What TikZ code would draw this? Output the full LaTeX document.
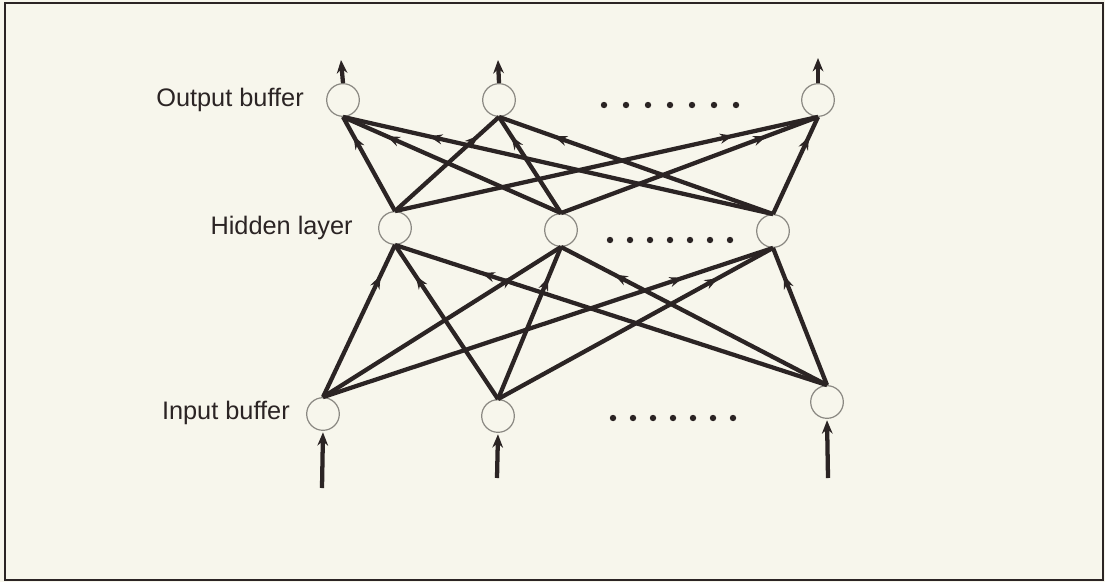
\documentclass[tikz,border=0pt]{standalone}
\usepackage{fontspec}
\setmainfont{Liberation Sans}
\usetikzlibrary{arrows.meta,decorations.markings}
\definecolor{bg}{HTML}{F7F6EC}
\definecolor{ink}{HTML}{2B2424}
\definecolor{ring}{HTML}{8A8882}
\tikzset{
  unit/.style={circle,draw=ring,line width=0.9pt,minimum size=24.5pt,inner sep=0pt},
  lbl/.style={anchor=east,text=ink,font=\fontsize{19}{21}\selectfont,inner sep=0pt},
  edge/.style={draw=ink,line width=3.2pt,
    postaction={decorate},
    decoration={markings,mark=at position 0.8 with {\arrow{Stealth[length=10pt,width=7.5pt]}}}},
  ioarrow/.style={draw=ink,line width=3.2pt,-{Stealth[length=10pt,width=8pt]}},
  dotmark/.style={circle,fill=ink,inner sep=0pt,minimum size=4.8pt}
}
\begin{document}
\begin{tikzpicture}[x=0.75pt,y=-0.75pt]
\useasboundingbox (0,0) rectangle (1105,582);
\fill[bg] (0,0) rectangle (1105,582);
\draw[ink,line width=1.4pt] (5,3) rectangle (1103,580);
% nodes
\node[unit] (o1) at (343,100) {};
\node[unit] (o2) at (499,100) {};
\node[unit] (o3) at (818,100) {};
\node[unit] (h1) at (395,228) {};
\node[unit] (h2) at (561,230) {};
\node[unit] (h3) at (773,231) {};
\node[unit] (i1) at (323,414) {};
\node[unit] (i2) at (498,416) {};
\node[unit] (i3) at (827,402) {};
% labels
\node[lbl] (lo) at (304,100) {Output buffer};
\node[lbl] (lh) at (353,228) {Hidden layer};
\node[lbl] (li) at (290,413) {Input buffer};
% input to hidden
\foreach \a in {i1,i2,i3}{
  \foreach \b in {h1,h2,h3}{
    \draw[edge] (\a.north) -- (\b.south);
  }
}
% hidden to output
\foreach \a in {h1,h2,h3}{
  \foreach \b in {o1,o2,o3}{
    \draw[edge] (\a.north) -- (\b.south);
  }
}
% external arrows
\coordinate (ti1) at (322,488);
\coordinate (ti2) at (497,478);
\coordinate (ti3) at (828,478);
\coordinate (to1) at (341,60);
\coordinate (to2) at (498,60);
\coordinate (to3) at (818,58);
\draw[ioarrow,shorten >=1pt] (ti1) -- (i1.south);
\draw[ioarrow,shorten >=1pt] (ti2) -- (i2.south);
\draw[ioarrow,shorten >=1pt] (ti3) -- (i3.south);
\draw[ioarrow] (o1.north) -- (to1);
\draw[ioarrow] (o2.north) -- (to2);
\draw[ioarrow] (o3.north) -- (to3);
% dots
\foreach \k in {0,...,6}{
  \node[dotmark] (do\k) at ({604+22*\k},105) {};
  \node[dotmark] (dh\k) at ({610+20*\k},240) {};
  \node[dotmark] (di\k) at ({613+20*\k},418) {};
}
\end{tikzpicture}
\end{document}
